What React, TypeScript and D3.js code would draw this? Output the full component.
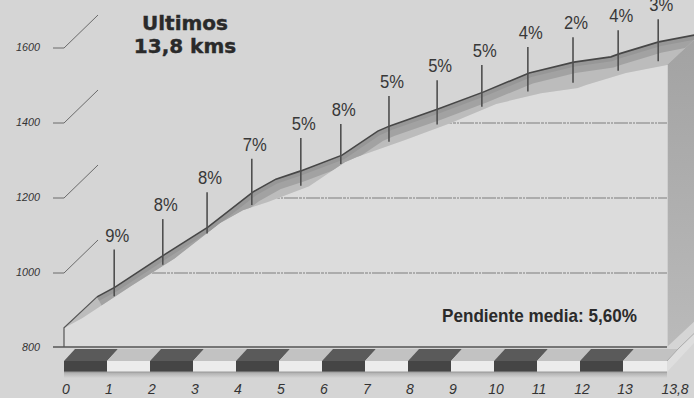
import React from "react";
import * as d3 from "d3";

// Profile (front face) — km along the climb and altitude in metres
const kms = [0, 0.42, 1.56, 2.58, 3.63, 4.16, 4.74, 5.7, 6.53, 6.81, 7.93, 8.98, 10.05, 11.09, 11.95, 12.14, 13.05, 13.8];
const elevations = [851, 877, 963, 1037, 1131, 1165, 1187, 1229, 1293, 1307, 1352, 1397, 1448, 1477, 1491, 1499, 1531, 1552];

// Gradient markers
const markerKms = [0.4, 1.53, 2.56, 3.6, 4.74, 5.67, 6.79, 7.91, 8.95, 10.02, 11.07, 12.12, 13.04];
const gradeLabels = ["9%", "8%", "8%", "7%", "5%", "8%", "5%", "5%", "5%", "4%", "2%", "4%", "3%"];

// Axes
const yTicks = [800, 1000, 1200, 1400, 1600];
const gridTicks = [1000, 1200, 1400];
const kmTicks = [0, 1, 2, 3, 4, 5, 6, 7, 8, 9, 10, 11, 12, 13, 13.8];
const kmTickLabels = ["0", "1", "2", "3", "4", "5", "6", "7", "8", "9", "10", "11", "12", "13", "13,8"];

const titleLines = ["Ultimos", "13,8 kms"];
const averageText = "Pendiente media: 5,60%";

const W = 694;
const H = 398;
const DX = 33;
const DY = -31;

export default function App() {
  const x = d3.scaleLinear().domain([0, 13, 13.8]).range([64, 623, 667]);
  const y = d3.scaleLinear().domain([800, 1600]).range([347, 47]);
  const elevAt = d3.scaleLinear().domain(kms).range(elevations).clamp(true);

  const front = kms.map((k, i) => [x(k), y(elevations[i])] as [number, number]);
  const back = front.map(([px, py]) => [px + DX, py + DY] as [number, number]);
  const base = y(800);
  const x0 = x(0);
  const xEnd = x(13.8);
  const yEnd = y(elevations[elevations.length - 1]);

  const line = d3.line();
  const facePath = line(front)! + `L${xEnd},${base}L${x0},${base}Z`;
  const bandPath = line([...front, ...back.slice().reverse()])! + "Z";

  const sidePath = `M${xEnd},${yEnd}L${xEnd + DX},${yEnd + DY}L${xEnd + DX},${base + DY}L${xEnd},${base}Z`;

  // strip
  const sTop = 349;
  const sMid = 361;
  const sBot = 372;
  const segs = d3.range(0, 14).map((i) => ({ a: i, b: Math.min(i + 1, 13.8), dark: i % 2 === 0 }));

  return (
    <svg width={W} height={H} style={{ display: "block", position: "absolute", left: 0, top: 0 }}>
      <defs>
        <clipPath id="faceClip">
          <path d={facePath} />
        </clipPath>
        <clipPath id="bandClip">
          <path d={bandPath} />
        </clipPath>
        <linearGradient id="sideGrad" x1="0" y1="0" x2="0" y2="1">
          <stop offset="0" stopColor="#a2a2a2" />
          <stop offset="1" stopColor="#bababa" />
        </linearGradient>
        <linearGradient id="shadowGrad" x1="0" y1="0" x2="0" y2="1">
          <stop offset="0" stopColor="#ababab" />
          <stop offset="1" stopColor="#d5d5d5" />
        </linearGradient>
      </defs>
      <rect x={0} y={0} width={W} height={H} fill="#d5d5d5" />

      {/* front face */}
      <path d={facePath} fill="#dcdcdc" />
      <g clipPath="url(#faceClip)">
        {gridTicks.map((t) => (
          <line key={t} x1={x0} x2={xEnd} y1={y(t) + 1} y2={y(t) + 1} stroke="#9c9c9c" strokeWidth={1.4} strokeDasharray="14 1 3 1 2 1" />
        ))}
      </g>

      {/* top surface band */}
      <path d={bandPath} fill="#bcbcbc" />
      <g clipPath="url(#bandClip)">
        <path d={line(back)!} fill="none" stroke="#a2a2a2" strokeWidth={22} />
        <path d={line(back)!} fill="none" stroke="#979797" strokeWidth={9} />
      </g>

      {/* side face */}
      <path d={sidePath} fill="url(#sideGrad)" />
      <line x1={xEnd + 0.5} y1={yEnd} x2={xEnd + 0.5} y2={base} stroke="#cfcfcf" strokeWidth={1} />

      {/* outlines */}
      <path d={line(back)!} fill="none" stroke="#474747" strokeWidth={1.6} />
      <path d={`M${x0},${base}L${front[0][0]},${front[0][1]}L${back[0][0]},${back[0][1]}`} fill="none" stroke="#555" strokeWidth={1.2} />

      {/* y axis ticks */}
      {yTicks.map((t) => (
        <g key={t}>
          <text x={40} y={y(t) + 4} textAnchor="end" fontFamily="Liberation Sans, Arial, sans-serif" fontStyle="italic" fontSize={11} fill="#333" textLength={t >= 1000 ? 24 : 18} lengthAdjust="spacingAndGlyphs">
            {t}
          </text>
          {t === 800 ? (
            <line x1={53} x2={xEnd} y1={base} y2={base} stroke="#555" strokeWidth={1.3} />
          ) : (
            <path d={`M53,${y(t) + 1}H${x0}L${x0 + DX + 1},${y(t) + 1 + DY - 2}`} fill="none" stroke="#6a6a6a" strokeWidth={1} />
          )}
        </g>
      ))}

      {/* gradient markers */}
      {markerKms.map((k, i) => {
        const mx = x(k) + DX;
        const backY = y(elevAt(k)) + DY;
        const frontY = y(elevAt(x.invert(mx)));
        const top = backY - (38 - 0.028 * (mx - 114));
        const bottom = backY + 0.7 * Math.max(0, frontY - backY) + 2;
        return (
          <g key={i}>
            <line x1={mx} x2={mx} y1={top} y2={bottom} stroke="#4f4f4f" strokeWidth={1.6} />
            <text x={mx + 3} y={top - 8} textAnchor="middle" fontFamily="Liberation Sans, Arial, sans-serif" fontSize={18} fill="#383838" textLength={24} lengthAdjust="spacingAndGlyphs">
              {gradeLabels[i]}
            </text>
          </g>
        );
      })}

      {/* km strip */}
      <rect x={x0} y={sBot} width={xEnd - x0} height={6} fill="url(#shadowGrad)" />
      {segs.map((s) => {
        const a = x(s.a);
        const b = x(s.b);
        return (
          <g key={s.a}>
            <path d={`M${a},${sMid}L${b},${sMid}L${b + 11},${sTop}L${a + 11},${sTop}Z`} fill={s.dark ? "#5a5a5a" : "#c2c2c2"} />
            <rect x={a} y={sMid} width={b - a} height={sBot - sMid} fill={s.dark ? "#454545" : "#ececec"} />
          </g>
        );
      })}
      <path d={`M${xEnd},${sMid}L${xEnd + 11},${sTop}L${xEnd + 40},${sTop - 28}L${xEnd + 40},${sTop - 20}L${xEnd},${sBot}Z`} fill="#dedede" />
      <path d={`M${xEnd},${sMid}L${xEnd + 11},${sTop}L${xEnd + 40},${sTop - 28}`} fill="none" stroke="#aaa" strokeWidth={1} />
      <line x1={x0} x2={xEnd} y1={sBot} y2={sBot} stroke="#9a9a9a" strokeWidth={1} />

      {kmTicks.map((k, i) => (
        <text key={k} x={x(k) + (k === 13.8 ? 8 : 2)} y={394} textAnchor="middle" fontFamily="Liberation Sans, Arial, sans-serif" fontStyle="italic" fontSize={14} fill="#333">
          {kmTickLabels[i]}
        </text>
      ))}

      {/* title */}
      {titleLines.map((t, i) => (
        <text key={t} x={185} y={30 + i * 23} textAnchor="middle" fontFamily="DejaVu Sans, sans-serif" fontWeight="bold" fontSize={20} fill="#2a2a2a" stroke="#2a2a2a" strokeWidth={0.4}>
          {t}
        </text>
      ))}
      <text x={442} y={322} fontFamily="Liberation Sans, Arial, sans-serif" fontWeight="bold" fontSize={19} fill="#2a2a2a" textLength={195} lengthAdjust="spacingAndGlyphs">
        {averageText}
      </text>
    </svg>
  );
}
